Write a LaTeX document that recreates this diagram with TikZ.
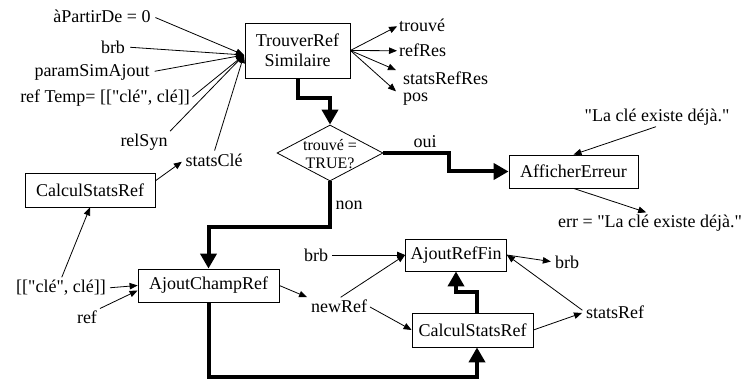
\documentclass[tikz,border=0pt]{standalone}
\usepackage{fontspec}
\setmainfont{Liberation Serif}[Ligatures=TeXOff]
\usetikzlibrary{arrows.meta,shapes.geometric,calc}
\tikzset{
  txt/.style={font=\fontsize{18}{20}\selectfont, inner sep=1pt},
  box/.style={draw, line width=0.8pt, font=\fontsize{18}{20}\selectfont, inner sep=0pt, align=center},
  thin/.style={line width=0.8pt, -{Triangle[width=6.5pt,length=8pt]}},
  flow/.style={line width=4pt, -{Triangle[width=16pt,length=15pt]}},
}
\begin{document}
\begin{tikzpicture}[x=1pt,y=-1pt]
\useasboundingbox (0,0) rectangle (746,379);

% boxes
\node[box, minimum width=105pt, minimum height=55pt] (tr) at (297.5,50.5) {TrouverRef\\Similaire};
\node[draw, line width=0.8pt, diamond, minimum width=106pt, minimum height=56pt, inner sep=0pt] (dia) at (330,153) {};
\node[font=\fontsize{16}{18}\selectfont, align=center, inner sep=0pt] (diatxt) at (330,154) {trouvé =\\TRUE?};
\node[box, minimum width=129pt, minimum height=33pt] (ae) at (573.5,171.5) {AfficherErreur};
\node[box, minimum width=130pt, minimum height=34pt] (csl) at (90,190) {CalculStatsRef};
\node[box, minimum width=141pt, minimum height=33pt] (acr) at (208.5,285.5) {AjoutChampRef};
\node[box, minimum width=101pt, minimum height=32pt] (arf) at (456,255) {AjoutRefFin};
\node[box, minimum width=121pt, minimum height=34pt] (csr) at (472.5,330) {CalculStatsRef};

% labels
\node[txt] (apd) at (102,16) {àPartirDe = 0};
\node[txt] (brb1) at (113,47) {brb};
\node[txt] (psa) at (92,72) {paramSimAjout};
\node[txt] (rt) at (105,98) {ref Temp= [["clé", clé]]};
\node[txt] (rs) at (144,142) {relSyn};
\node[txt] (sc) at (214,160) {statsClé};
\node[txt, anchor=base west] (tv) at (398,32) {trouvé};
\node[txt, anchor=base west] (rr) at (398,57) {refRes};
\node[txt, anchor=base west, inner sep=0pt] (srr) at (403,85) {statsRefRes};
\node[txt, anchor=base west, inner sep=0pt] (pos) at (403,102) {pos};
\node[txt] (oui) at (425,142) {oui};
\node[txt] (non) at (349,205) {non};
\node[txt] (lce) at (657,117) {"La clé existe déjà."};
\node[txt] (err) at (650,223) {err = "La clé existe déjà."};
\node[txt] (cl) at (61,288) {[["clé", clé]]};
\node[txt] (ref) at (87,317) {ref};
\node[txt] (brb2) at (316,255) {brb};
\node[txt] (nr) at (339,306) {newRef};
\node[txt] (brb3) at (567,262) {brb};
\node[txt] (sr) at (615,312) {statsRef};

\coordinate (tin) at (244,55);

% inputs of TrouverRef
\draw[thin, shorten <=4pt] (apd.east) -- (tin);
\draw[thin, shorten <=4pt] (brb1.east) -- (tin);
\draw[thin, shorten <=4pt] (psa.east) -- (tin);
\draw[thin, shorten <=2pt] (rt.east) -- (tin);
\draw[thin, shorten <=2pt] (rs.north east) -- (tin);
\draw[thin, shorten <=2pt] (sc.north) -- (tin);

% outputs of TrouverRef
\draw[thin, shorten >=1pt] (tr.east) -- (tv.west);
\draw[thin, shorten >=1pt] (tr.east) -- (rr.west);
\draw[thin] (tr.east) -- ([xshift=-7pt,yshift=2pt]srr.north west);
\draw[thin] (tr.east) -- ([xshift=-7pt,yshift=2pt]pos.north west);

% left CalculStatsRef
\draw[thin, shorten >=3pt] (csl.8) -- (sc.west);
\draw[thin, shorten <=2pt] (cl.north) -- (csl.south);

% AjoutChampRef inputs/outputs
\draw[thin, shorten <=3pt] (cl.east) -- (acr.west);
\draw[thin, shorten <=2pt] (ref.north east) -- ([yshift=-5pt]acr.west);
\draw[thin, shorten >=3pt] (acr.east) -- (nr.north west);

% AjoutRefFin / CalculStatsRef right
\draw[thin, shorten <=3pt] (brb2.east) -- (arf.west);
\draw[thin, shorten <=2pt] (nr.north) -- (arf.west);
\draw[thin, shorten <=2pt] (nr.east) -- (csr.west);
\draw[thin, shorten >=3pt] (csr.east) -- (sr.west);
\draw[thin, shorten <=3pt] (sr.west) -- (arf.east);
\draw[thin, shorten >=3pt] (arf.east) -- (brb3.west);

% AfficherErreur
\draw[thin, shorten <=1pt] (lce.south) -- (ae.north);
\draw[thin, shorten >=4pt] (ae.south) -- (err.north);

% main flow
\draw[flow] (tr.south) -- ++(0,20) -| (dia.north);
\draw[flow] (dia.east) -- ++(66,0) |- (ae.west);
\draw[flow] (dia.south) -- ++(0,46) -| (acr.north);
\draw[flow] (acr.south) -- ++(0,75) -| ([xshift=4.5pt]csr.south);
\draw[flow] ([xshift=4.5pt]csr.north) -- ++(0,-21) -| (arf.south);
\end{tikzpicture}
\end{document}
